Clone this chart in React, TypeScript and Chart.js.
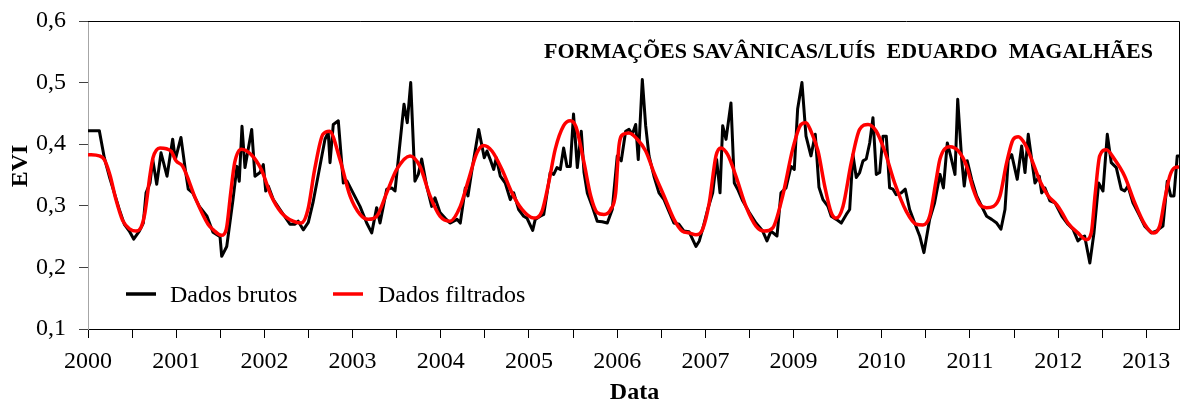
import React, { useEffect, useRef } from 'react';
import { Chart, registerables } from 'chart.js';

Chart.register(...registerables);

const TITLE = 'FORMAÇÕES SAVÂNICAS/LUÍS  EDUARDO  MAGALHÃES';
const X_TITLE = 'Data';
const Y_TITLE = 'EVI';
const LEGEND_LABELS = ['Dados brutos', 'Dados filtrados'];
// labels shown under the yearly ticks (as printed on the original axis)
const YEAR_LABELS = ['2000', '2001', '2002', '2003', '2004', '2005', '2006', '2007', '2009', '2010', '2011', '2012', '2013'];
const X_MIN = 2000;
const X_MAX = 2012.37;
const Y_MIN = 0.1;
const Y_MAX = 0.6;

// Raw EVI ("Dados brutos"): axis position (decimal year on the drawn axis) and value
const RAW_X = [
  2000.000, 2000.128, 2000.185, 2000.241, 2000.298, 2000.355, 2000.412, 2000.468, 2000.518, 2000.582,
  2000.627, 2000.658, 2000.703, 2000.734, 2000.779, 2000.828, 2000.896, 2000.960, 2000.990, 2001.054,
  2001.103, 2001.137, 2001.187, 2001.262, 2001.349, 2001.417, 2001.497, 2001.516, 2001.573, 2001.644,
  2001.689, 2001.715, 2001.746, 2001.780, 2001.856, 2001.893, 2001.950, 2001.988, 2002.015, 2002.044,
  2002.101, 2002.177, 2002.253, 2002.290, 2002.347, 2002.384, 2002.441, 2002.498, 2002.551, 2002.608,
  2002.687, 2002.724, 2002.744, 2002.781, 2002.838, 2002.895, 2002.937, 2003.005, 2003.084, 2003.160,
  2003.217, 2003.273, 2003.311, 2003.387, 2003.443, 2003.481, 2003.583, 2003.620, 2003.659, 2003.707,
  2003.745, 2003.783, 2003.840, 2003.897, 2003.934, 2003.991, 2004.048, 2004.104, 2004.184, 2004.221,
  2004.278, 2004.308, 2004.354, 2004.430, 2004.493, 2004.524, 2004.561, 2004.600, 2004.629, 2004.675,
  2004.731, 2004.788, 2004.827, 2004.883, 2004.940, 2004.977, 2005.042, 2005.071, 2005.128, 2005.167,
  2005.241, 2005.280, 2005.317, 2005.355, 2005.393, 2005.431, 2005.468, 2005.505, 2005.548, 2005.593,
  2005.624, 2005.661, 2005.718, 2005.774, 2005.831, 2005.888, 2005.944, 2006.001, 2006.046, 2006.096,
  2006.134, 2006.171, 2006.210, 2006.239, 2006.285, 2006.323, 2006.361, 2006.417, 2006.474, 2006.531,
  2006.587, 2006.644, 2006.701, 2006.757, 2006.814, 2006.893, 2006.931, 2006.969, 2007.026, 2007.083,
  2007.128, 2007.166, 2007.196, 2007.234, 2007.290, 2007.328, 2007.366, 2007.423, 2007.498, 2007.574,
  2007.650, 2007.698, 2007.744, 2007.812, 2007.857, 2007.914, 2007.971, 2008.008, 2008.046, 2008.095,
  2008.141, 2008.197, 2008.246, 2008.288, 2008.333, 2008.390, 2008.427, 2008.484, 2008.541, 2008.598,
  2008.636, 2008.673, 2008.711, 2008.749, 2008.787, 2008.824, 2008.863, 2008.900, 2008.938, 2008.976,
  2009.014, 2009.051, 2009.089, 2009.127, 2009.164, 2009.221, 2009.266, 2009.316, 2009.373, 2009.430,
  2009.478, 2009.543, 2009.599, 2009.660, 2009.699, 2009.743, 2009.781, 2009.830, 2009.861, 2009.906,
  2009.935, 2009.969, 2010.019, 2010.076, 2010.133, 2010.189, 2010.246, 2010.303, 2010.351, 2010.397,
  2010.434, 2010.473, 2010.536, 2010.586, 2010.624, 2010.661, 2010.700, 2010.737, 2010.786, 2010.813,
  2010.850, 2010.907, 2010.964, 2011.043, 2011.111, 2011.168, 2011.224, 2011.262, 2011.300, 2011.359,
  2011.406, 2011.459, 2011.508, 2011.557, 2011.602, 2011.659, 2011.715, 2011.754, 2011.791, 2011.848,
  2011.905, 2011.981, 2012.056, 2012.112, 2012.188, 2012.237, 2012.276, 2012.313, 2012.350, 2012.370,
];
const RAW_V = [
  0.422, 0.422, 0.378, 0.348, 0.321, 0.294, 0.270, 0.259, 0.246, 0.259,
  0.272, 0.321, 0.337, 0.375, 0.335, 0.386, 0.348, 0.408, 0.375, 0.411,
  0.359, 0.327, 0.321, 0.299, 0.283, 0.257, 0.250, 0.218, 0.234, 0.310,
  0.364, 0.340, 0.429, 0.362, 0.424, 0.348, 0.354, 0.367, 0.324, 0.332,
  0.310, 0.294, 0.278, 0.270, 0.270, 0.275, 0.261, 0.273, 0.305, 0.348,
  0.408, 0.419, 0.370, 0.432, 0.438, 0.337, 0.340, 0.321, 0.299, 0.272,
  0.256, 0.297, 0.272, 0.327, 0.329, 0.324, 0.465, 0.435, 0.500, 0.340,
  0.351, 0.376, 0.332, 0.299, 0.313, 0.289, 0.280, 0.272, 0.278, 0.272,
  0.329, 0.316, 0.359, 0.424, 0.378, 0.389, 0.375, 0.359, 0.378, 0.348,
  0.337, 0.310, 0.321, 0.294, 0.283, 0.280, 0.260, 0.278, 0.283, 0.286,
  0.354, 0.351, 0.362, 0.359, 0.394, 0.364, 0.364, 0.449, 0.362, 0.421,
  0.354, 0.321, 0.299, 0.275, 0.274, 0.272, 0.294, 0.381, 0.373, 0.421,
  0.424, 0.416, 0.432, 0.375, 0.505, 0.430, 0.381, 0.348, 0.321, 0.310,
  0.291, 0.272, 0.270, 0.259, 0.258, 0.234, 0.243, 0.262, 0.294, 0.321,
  0.375, 0.321, 0.430, 0.408, 0.467, 0.337, 0.327, 0.308, 0.289, 0.272,
  0.259, 0.243, 0.259, 0.251, 0.321, 0.329, 0.364, 0.359, 0.457, 0.500,
  0.413, 0.381, 0.416, 0.330, 0.310, 0.299, 0.283, 0.278, 0.272, 0.286,
  0.294, 0.383, 0.346, 0.354, 0.373, 0.376, 0.402, 0.443, 0.351, 0.354,
  0.413, 0.413, 0.329, 0.327, 0.318, 0.321, 0.327, 0.294, 0.272, 0.251,
  0.224, 0.278, 0.305, 0.351, 0.329, 0.402, 0.381, 0.351, 0.473, 0.375,
  0.332, 0.373, 0.343, 0.316, 0.299, 0.283, 0.278, 0.272, 0.262, 0.294,
  0.375, 0.383, 0.343, 0.397, 0.354, 0.416, 0.375, 0.337, 0.348, 0.321,
  0.329, 0.308, 0.305, 0.283, 0.270, 0.262, 0.243, 0.248, 0.251, 0.207,
  0.256, 0.337, 0.324, 0.416, 0.370, 0.362, 0.327, 0.324, 0.332, 0.305,
  0.289, 0.267, 0.256, 0.259, 0.267, 0.340, 0.316, 0.316, 0.381, 0.381,
];

// Filtered EVI ("Dados filtrados")
const FILT_X = [
  2000.000, 2000.128, 2000.185, 2000.249, 2000.317, 2000.393, 2000.476, 2000.544, 2000.601, 2000.646,
  2000.703, 2000.737, 2000.816, 2000.941, 2000.998, 2001.074, 2001.224, 2001.361, 2001.421, 2001.514,
  2001.568, 2001.618, 2001.663, 2001.738, 2001.852, 2001.965, 2002.078, 2002.192, 2002.324, 2002.418,
  2002.494, 2002.570, 2002.664, 2002.738, 2002.857, 2002.971, 2003.084, 2003.178, 2003.273, 2003.387,
  2003.500, 2003.651, 2003.764, 2003.878, 2003.991, 2004.104, 2004.221, 2004.316, 2004.410, 2004.486,
  2004.580, 2004.694, 2004.807, 2004.921, 2005.053, 2005.147, 2005.223, 2005.298, 2005.393, 2005.468,
  2005.533, 2005.624, 2005.700, 2005.774, 2005.850, 2005.926, 2005.983, 2006.020, 2006.069, 2006.134,
  2006.228, 2006.323, 2006.417, 2006.531, 2006.644, 2006.738, 2006.814, 2006.893, 2006.969, 2007.044,
  2007.120, 2007.177, 2007.253, 2007.347, 2007.460, 2007.574, 2007.668, 2007.763, 2007.876, 2007.990,
  2008.084, 2008.141, 2008.197, 2008.277, 2008.353, 2008.427, 2008.484, 2008.560, 2008.654, 2008.749,
  2008.844, 2008.938, 2009.033, 2009.146, 2009.278, 2009.391, 2009.467, 2009.543, 2009.618, 2009.660,
  2009.773, 2009.868, 2009.963, 2010.037, 2010.113, 2010.189, 2010.264, 2010.340, 2010.416, 2010.491,
  2010.548, 2010.624, 2010.700, 2010.794, 2010.888, 2010.983, 2011.043, 2011.111, 2011.224, 2011.319,
  2011.375, 2011.421, 2011.471, 2011.546, 2011.641, 2011.754, 2011.868, 2011.981, 2012.075, 2012.151,
  2012.208, 2012.265, 2012.322, 2012.370,
];
const FILT_V = [
  0.383, 0.381, 0.375, 0.350, 0.310, 0.276, 0.262, 0.259, 0.265, 0.289,
  0.350, 0.378, 0.394, 0.389, 0.373, 0.364, 0.310, 0.270, 0.261, 0.252,
  0.262, 0.321, 0.370, 0.392, 0.383, 0.359, 0.316, 0.289, 0.275, 0.272,
  0.294, 0.359, 0.416, 0.421, 0.375, 0.316, 0.286, 0.278, 0.283, 0.321,
  0.359, 0.381, 0.364, 0.316, 0.283, 0.275, 0.299, 0.343, 0.386, 0.398,
  0.389, 0.359, 0.321, 0.294, 0.280, 0.291, 0.337, 0.392, 0.430, 0.438,
  0.428, 0.370, 0.316, 0.289, 0.286, 0.294, 0.321, 0.397, 0.416, 0.418,
  0.408, 0.389, 0.354, 0.316, 0.278, 0.259, 0.256, 0.253, 0.262, 0.305,
  0.381, 0.394, 0.383, 0.348, 0.299, 0.267, 0.259, 0.264, 0.316, 0.392,
  0.432, 0.435, 0.421, 0.389, 0.332, 0.289, 0.280, 0.299, 0.370, 0.424,
  0.432, 0.421, 0.389, 0.337, 0.291, 0.270, 0.269, 0.283, 0.343, 0.376,
  0.396, 0.389, 0.364, 0.327, 0.302, 0.297, 0.299, 0.316, 0.370, 0.408,
  0.412, 0.400, 0.375, 0.340, 0.316, 0.302, 0.289, 0.272, 0.256, 0.245,
  0.256, 0.321, 0.381, 0.391, 0.375, 0.348, 0.305, 0.270, 0.256, 0.267,
  0.310, 0.348, 0.362, 0.363,
];

const SERIF = '"Liberation Serif", "Times New Roman", serif';

const overlayPlugin = {
  id: 'overlay',
  afterDraw(chart: any) {
    const { ctx, chartArea: a } = chart;
    ctx.save();
    // top and right frame of the plot area
    ctx.strokeStyle = '#000';
    ctx.lineWidth = 1;
    ctx.beginPath();
    ctx.moveTo(a.left, Math.round(a.top) + 0.5);
    ctx.lineTo(Math.round(a.right) + 0.5, Math.round(a.top) + 0.5);
    ctx.lineTo(Math.round(a.right) + 0.5, a.bottom);
    ctx.stroke();

    // chart title
    ctx.fillStyle = '#000';
    ctx.font = `bold 22px ${SERIF}`;
    ctx.textAlign = 'left';
    ctx.textBaseline = 'alphabetic';
    ctx.fillText(TITLE, 544, 58);

    // legend
    const colors = ['#000000', '#ff0000'];
    const lineX = [126, 333];
    const textX = [170, 378];
    ctx.font = `24px ${SERIF}`;
    for (let i = 0; i < 2; i++) {
      ctx.strokeStyle = colors[i];
      ctx.lineWidth = 3.5;
      ctx.beginPath();
      ctx.moveTo(lineX[i], 294);
      ctx.lineTo(lineX[i] + 30, 294);
      ctx.stroke();
      ctx.fillText(LEGEND_LABELS[i], textX[i], 301.5);
    }

    // axis titles
    ctx.font = `bold 24px ${SERIF}`;
    ctx.textAlign = 'center';
    ctx.fillText(X_TITLE, (a.left + a.right) / 2 + 1, 399);
    ctx.translate(26.5, 166);
    ctx.rotate(-Math.PI / 2);
    ctx.fillText(Y_TITLE, 0, 0);
    ctx.restore();
  },
};

export default function App() {
  const ref = useRef<HTMLCanvasElement>(null);
  useEffect(() => {
    document.body.style.margin = '0';
    const chart = new Chart(ref.current as HTMLCanvasElement, {
      type: 'line',
      data: {
        datasets: [
          {
            label: LEGEND_LABELS[1],
            data: FILT_X.map((x, i) => ({ x, y: FILT_V[i] })),
            borderColor: '#ff0000',
            borderWidth: 3.5,
            pointRadius: 0,
            cubicInterpolationMode: 'monotone',
            fill: false,
          },
          {
            label: LEGEND_LABELS[0],
            data: RAW_X.map((x, i) => ({ x, y: RAW_V[i] })),
            borderColor: '#000000',
            borderWidth: 3,
            borderJoinStyle: 'round',
            pointRadius: 0,
            tension: 0,
            fill: false,
          },
        ],
      },
      options: {
        responsive: false,
        devicePixelRatio: 1,
        animation: false,
        events: [],
        layout: { padding: { top: 21, right: 1, left: 0, bottom: 0 } },
        plugins: {
          legend: { display: false },
          title: { display: false },
          tooltip: { enabled: false },
        },
        scales: {
          x: {
            type: 'linear',
            min: X_MIN,
            max: X_MAX,
            afterFit: (s: any) => {
              s.height = 76;
              s.paddingLeft = 0;
              s.paddingRight = 0;
            },
            border: { color: '#000', width: 1 },
            grid: { drawOnChartArea: false, drawTicks: true, tickLength: 9, color: '#000' },
            ticks: {
              stepSize: 0.5,
              includeBounds: false,
              autoSkip: false,
              maxRotation: 0,
              padding: 9,
              color: '#000',
              font: { family: SERIF, size: 24 },
              callback: (v: any) => {
                const n = Number(v);
                const k = Math.round(n - X_MIN);
                return Math.abs(n - X_MIN - k) < 1e-6 ? YEAR_LABELS[k] ?? '' : '';
              },
            },
          },
          y: {
            type: 'linear',
            min: Y_MIN,
            max: Y_MAX,
            afterFit: (s: any) => {
              s.width = 88;
              s.paddingTop = 0;
              s.paddingBottom = 0;
            },
            border: { color: '#a6a6a6', width: 1 },
            grid: { drawOnChartArea: false, drawTicks: true, tickLength: 9, color: '#404040' },
            ticks: {
              stepSize: 0.1,
              padding: 13,
              color: '#000',
              font: { family: SERIF, size: 24 },
              callback: (v: any) => Number(v).toFixed(1).replace('.', ','),
            },
          },
        },
      },
      plugins: [overlayPlugin],
    } as any);
    return () => chart.destroy();
  }, []);
  return (
    <div style={{ position: 'absolute', left: 0, top: 0, width: 1180, height: 405, background: '#fff' }}>
      <canvas ref={ref} width={1180} height={405} style={{ display: 'block' }} />
    </div>
  );
}
